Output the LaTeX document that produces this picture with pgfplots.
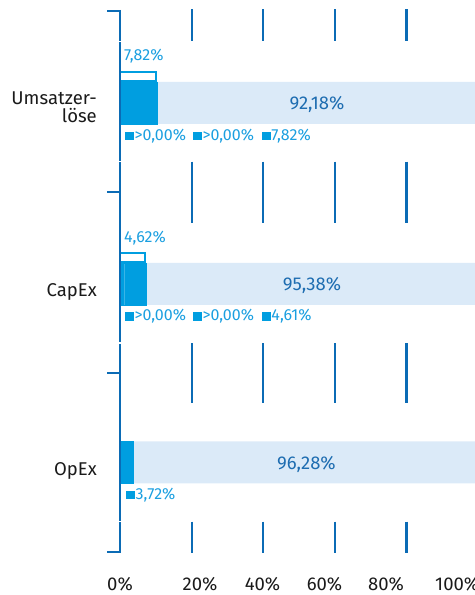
\documentclass[border=0pt]{standalone}
\usepackage{pgfplots}
\pgfplotsset{compat=1.18}
\usepackage{fontspec}
\setmainfont{Fira Sans}
\definecolor{axisblue}{HTML}{0B6BB5}
\definecolor{barblue}{HTML}{009EE0}
\definecolor{lightbar}{HTML}{DBEAF8}
\definecolor{bigtxt}{HTML}{1E6DB1}
\definecolor{smalltxt}{HTML}{1B9FE0}
\definecolor{cattxt}{HTML}{1A1A1A}
\newcommand\sq{{\color{barblue}\rule{8.5bp}{8.5bp}}\hspace{0.8bp}}
\newcommand\bigf{\fontsize{18.5bp}{20bp}\selectfont}
\newcommand\smallf{\fontsize{16bp}{18bp}\selectfont}
\pgfplotsset{base/.style={x=3.58bp,y=1bp,xmin=-33.52,xmax=99.16,ymin=-595,ymax=0,
  hide axis,clip=false,anchor=south west,at={(0,0)}}}
\begin{document}
\begin{tikzpicture}
\useasboundingbox (0,0) rectangle (475bp,595bp);
\clip (0,0) rectangle (475bp,595bp);
% stacked bars
\begin{axis}[base, xbar stacked, bar width=42]
\addplot[fill=barblue, draw=barblue, line width=0.4bp] coordinates {(1.26,-103) (1.32,-284) (0,-462.5)}; % >0,00%
\addplot[fill=barblue, draw=barblue, line width=0.4bp] coordinates {(1.26,-103) (1.32,-284) (0,-462.5)}; % >0,00%
\addplot[fill=barblue, draw=barblue, line width=0.4bp] coordinates {(7.82,-103) (4.61,-284) (3.72,-462.5)};
\addplot[fill=lightbar, draw=none] coordinates {(92.18,-103) (95.38,-284) (96.28,-462.5)};
\end{axis}
% outline boxes, decorations, labels
\begin{axis}[base]
\addplot[xbar, bar shift=0pt, bar width=9, fill=white, draw=barblue, line width=2bp]
  coordinates {(10.1,-76.5) (7.0,-257.7)};
% left axis line in segments
\draw[axisblue, line width=2.2bp]
  (axis cs:0,-10) -- (axis cs:0,-40.8)
  (axis cs:0,-42.2) -- (axis cs:0,-160.8)
  (axis cs:0,-162.2) -- (axis cs:0,-342.5)
  (axis cs:0,-343.8) -- (axis cs:0,-520.8)
  (axis cs:0,-522.2) -- (axis cs:0,-553);
% brackets
\pgfplotsinvokeforeach{-11,-192.3,-373.3,-552}{
  \draw[axisblue, line width=2.2bp] (axis cs:-3.63,#1) -- (axis cs:0,#1);
}
% grid segments
\pgfplotsinvokeforeach{20,40,60,80}{
  \draw[axisblue, line width=2.2bp]
    (axis cs:#1,-9.5) -- (axis cs:#1,-40.8)
    (axis cs:#1,-161.7) -- (axis cs:#1,-223)
    (axis cs:#1,-343.3) -- (axis cs:#1,-403)
    (axis cs:#1,-521.7) -- (axis cs:#1,-553.3);
}
% labels above boxes
\node[anchor=base west, inner sep=0, font=\smallf, text=smalltxt] at (axis cs:1.12,-61) {7,82\%};
\node[anchor=base west, inner sep=0, font=\smallf, text=smalltxt] at (axis cs:1.12,-242.5) {4,62\%};
% legend rows
\node[anchor=base west, inner sep=0, font=\smallf, text=smalltxt] at (axis cs:1.4,-140.5) {\sq>0,00\%};
\node[anchor=base west, inner sep=0, font=\smallf, text=smalltxt] at (axis cs:20.4,-140.5) {\sq>0,00\%};
\node[anchor=base west, inner sep=0, font=\smallf, text=smalltxt] at (axis cs:39.66,-140.5) {\sq7,82\%};
\node[anchor=base west, inner sep=0, font=\smallf, text=smalltxt] at (axis cs:1.4,-320.7) {\sq>0,00\%};
\node[anchor=base west, inner sep=0, font=\smallf, text=smalltxt] at (axis cs:20.4,-320.7) {\sq>0,00\%};
\node[anchor=base west, inner sep=0, font=\smallf, text=smalltxt] at (axis cs:39.66,-320.7) {\sq4,61\%};
\node[anchor=base west, inner sep=0, font=\smallf, text=smalltxt] at (axis cs:1.7,-499.5) {\sq3,72\%};
% big labels
\node[anchor=base, inner sep=0, font=\bigf, text=bigtxt] at (axis cs:55.03,-109.5) {92,18\%};
\node[anchor=base, inner sep=0, font=\bigf, text=bigtxt] at (axis cs:53.63,-291) {95,38\%};
\node[anchor=base, inner sep=0, font=\bigf, text=bigtxt] at (axis cs:52.09,-469.5) {96,28\%};
% categories
\node[anchor=base east, inner sep=0, font=\bigf, text=cattxt] at (axis cs:-6.42,-105) {Umsatzer-};
\node[anchor=base east, inner sep=0, font=\bigf, text=cattxt] at (axis cs:-6.42,-123) {löse};
\node[anchor=base east, inner sep=0, font=\bigf, text=cattxt] at (axis cs:-6.42,-296.5) {CapEx};
\node[anchor=base east, inner sep=0, font=\bigf, text=cattxt] at (axis cs:-6.42,-476) {OpEx};
% x tick labels
\node[anchor=base, inner sep=0, font=\bigf, text=cattxt] at (axis cs:0,-590.5) {0\%};
\node[anchor=base, inner sep=0, font=\bigf, text=cattxt] at (axis cs:22.35,-590.5) {20\%};
\node[anchor=base, inner sep=0, font=\bigf, text=cattxt] at (axis cs:39.8,-590.5) {40\%};
\node[anchor=base, inner sep=0, font=\bigf, text=cattxt] at (axis cs:57.12,-590.5) {60\%};
\node[anchor=base, inner sep=0, font=\bigf, text=cattxt] at (axis cs:74.3,-590.5) {80\%};
\node[anchor=base west, inner sep=0, font=\bigf, text=cattxt] at (axis cs:88.0,-590.5) {100\%};
\end{axis}
\end{tikzpicture}
\end{document}
